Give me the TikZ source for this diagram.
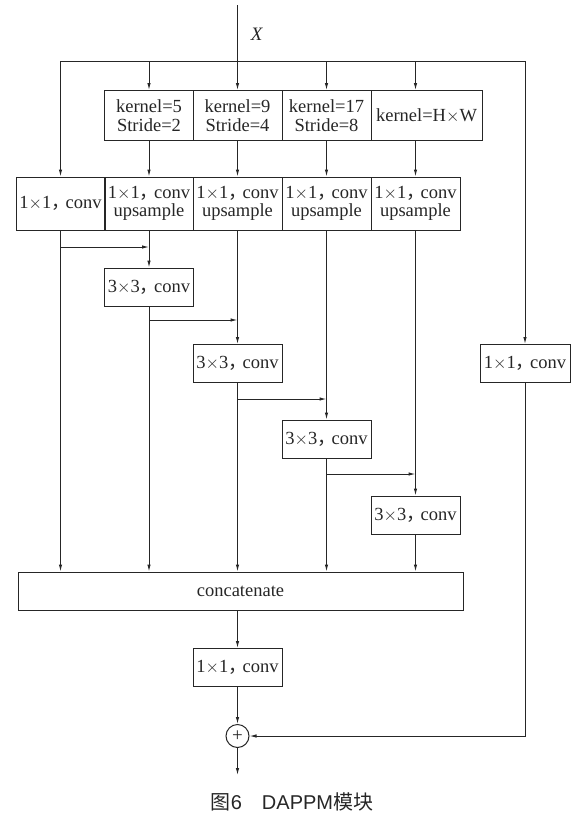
\documentclass[tikz,border=0pt]{standalone}
\usepackage{fontspec}
\setmainfont{Liberation Serif}
\newfontfamily\cjk{Noto Sans CJK SC}
\newfontfamily\capfont{Liberation Sans}
\usetikzlibrary{arrows.meta}
\newcommand{\zc}{\makebox[0.78em][l]{\cjk ，}}
\newcommand{\tm}{\ensuremath{\times}}
\tikzset{
    blk/.style={draw, line width=1pt, inner sep=0pt, minimum width=89pt, minimum height=38pt,
        align=center, font=\fontsize{18.5}{18.5}\selectfont},
    arr/.style={-{Latex[length=7pt, width=3.5pt]}, line width=1pt},
    wire/.style={line width=1pt},
}
\begin{document}
\begin{tikzpicture}[x=1pt, y=-1pt, black!85]
        \useasboundingbox (0, 0) rectangle (577, 817);
        % pooling branches
        \node[blk, minimum height=50pt] (k1) at (149, 115.5) {kernel=5\\Stride=2};
        \node[blk, minimum height=50pt] (k2) at (237.5, 115.5) {kernel=9\\Stride=4};
        \node[blk, minimum height=50pt] (k3) at (326.5, 115.5) {kernel=17\\Stride=8};
        \node[blk, minimum height=50pt, minimum width=111pt] (k4) at (426.5, 115.5) {kernel=H\tm W};
        \node[blk, minimum height=53pt] (c0) at (60.5, 203.5) {1\tm 1\zc conv};
        \node[blk, minimum height=53pt] (c1) at (149, 203.5) {1\tm 1\zc conv\\upsample};
        \node[blk, minimum height=53pt] (c2) at (237.5, 203.5) {1\tm 1\zc conv\\upsample};
        \node[blk, minimum height=53pt] (c3) at (326.5, 203.5) {1\tm 1\zc conv\\upsample};
        \node[blk, minimum height=53pt] (c4) at (415.5, 203.5) {1\tm 1\zc conv\\upsample};
        % 3x3 cascade
        \node[blk] (d1) at (149, 287) {3\tm 3\zc conv};
        \node[blk] (d2) at (237.5, 363.5) {3\tm 3\zc conv};
        \node[blk] (d3) at (326.5, 439) {3\tm 3\zc conv};
        \node[blk] (d4) at (415.5, 515) {3\tm 3\zc conv};
        \node[blk, minimum width=90pt] (r) at (525, 363.5) {1\tm 1\zc conv};
        \node[blk, minimum width=445pt] (cat) at (240.5, 591) {concatenate};
        \node[blk] (f) at (237.5, 667.5) {1\tm 1\zc conv};
        \node[draw, circle, line width=1pt, minimum size=23pt, inner sep=0pt, font=\fontsize{19}{19}\selectfont] (plus) at (237.5, 736) {+};
        \node (xlab) at (257, 34) {\fontsize{19}{19}\selectfont\textit{X}};
        \node (cap) at (292, 802) {\fontsize{20}{20}\selectfont\cjk 图{\capfont 6\hspace{1em}DAPPM}模块};
        \coordinate (in) at (237.5, 5);
        \coordinate (busL) at (60.5, 61);
        \coordinate (busR) at (525, 61);
        \coordinate (out) at (237.5, 775);
        % input bus
        \draw[wire] (in) -- (in |- busL);
        \draw[wire] (busL) -- (busR);
        \draw[arr] (busL) -- (c0);
        \draw[arr] (k1 |- busL) -- (k1);
        \draw[arr] (k2 |- busL) -- (k2);
        \draw[arr] (k3 |- busL) -- (k3);
        \draw[arr] (c4 |- busL) -- (c4 |- k4.north);
        \draw[arr] (busR) -- (r);
        \draw[arr] (k1) -- (c1);
        \draw[arr] (k2) -- (c2);
        \draw[arr] (k3) -- (c3);
        \draw[arr] (c4 |- k4.south) -- (c4);
        % cascade
        \draw[arr] (c1) -- (d1);
        \draw[arr] (c2) -- (d2);
        \draw[arr] (c3) -- (d3);
        \draw[arr] (c4) -- (d4);
        \draw[arr] (c0 |- 0,247) -- (c1 |- 0,247);
        \draw[arr] (d1 |- 0,320) -- (c2 |- 0,320);
        \draw[arr] (d2 |- 0,399) -- (c3 |- 0,399);
        \draw[arr] (d3 |- 0,474) -- (c4 |- 0,474);
        % to concatenate
        \draw[arr] (c0) -- (c0 |- cat.north);
        \draw[arr] (d1) -- (d1 |- cat.north);
        \draw[arr] (d2) -- (d2 |- cat.north);
        \draw[arr] (d3) -- (d3 |- cat.north);
        \draw[arr] (d4) -- (d4 |- cat.north);
        \draw[arr] (f |- cat.south) -- (f);
        \draw[arr] (f) -- (plus);
        \draw[arr] (r) |- (plus);
        \draw[arr] (plus) -- (out);
\end{tikzpicture}
\end{document}
